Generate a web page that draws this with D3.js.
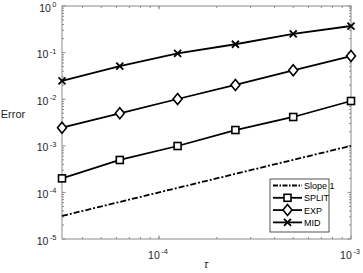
<!DOCTYPE html>
<html><head><meta charset="utf-8">
<script src="https://cdn.jsdelivr.net/npm/d3@7"></script>
<style>body{margin:0;background:#fff}svg{display:block}text{font-family:Helvetica,Arial,"Liberation Sans",sans-serif}</style>
</head><body>
<svg id="c" width="363" height="273"></svg>
<script>
const tau = [3.125e-5, 6.25e-5, 1.25e-4, 2.5e-4, 5e-4, 1e-3];
const slope1 = [3.125e-5, 1e-3];
const split = [2.0e-4, 4.96e-4, 9.9e-4, 2.18e-3, 4.15e-3, 9.15e-3];
const exp = [2.45e-3, 4.98e-3, 1.01e-2, 2.02e-2, 4.17e-2, 8.45e-2];
const mid = [2.46e-2, 5.15e-2, 9.66e-2, 1.51e-1, 2.51e-1, 3.72e-1];
const xTicks = [1e-4, 1e-3];
const yTicks = [1e-5, 1e-4, 1e-3, 1e-2, 1e-1, 1];
const legendLabels = ["Slope 1", "SPLIT", "EXP", "MID"];

const svg = d3.select("#c");
const L = 62, R = 351, T = 6, B = 239;
const x = d3.scaleLog().domain([3.125e-5, 1e-3]).range([L, R]);
const y = d3.scaleLog().domain([1e-5, 1]).range([B, T]);
const axCol = "#8a8a8a";

const xMinor = [];
for (let e = -5; e <= -4; e++) for (let m = 1; m <= 9; m++) { const v = m * Math.pow(10, e); if (v >= 3.125e-5 && v <= 1e-3) xMinor.push(v); }
const yMinor = [];
for (let e = -5; e <= -1; e++) for (let m = 2; m <= 9; m++) yMinor.push(m * Math.pow(10, e));

const g = svg.append("g");
g.append("rect").attr("x", L).attr("y", T).attr("width", R - L).attr("height", B - T)
  .attr("fill", "none").attr("stroke", axCol).attr("stroke-width", 1);

function tickX(v, len) {
  g.append("line").attr("x1", x(v)).attr("x2", x(v)).attr("y1", B).attr("y2", B - len).attr("stroke", axCol);
  g.append("line").attr("x1", x(v)).attr("x2", x(v)).attr("y1", T).attr("y2", T + len).attr("stroke", axCol);
}
function tickY(v, len) {
  g.append("line").attr("y1", y(v)).attr("y2", y(v)).attr("x1", L).attr("x2", L + len).attr("stroke", axCol);
  g.append("line").attr("y1", y(v)).attr("y2", y(v)).attr("x1", R).attr("x2", R - len).attr("stroke", axCol);
}
xMinor.forEach(v => tickX(v, 2));
xTicks.forEach(v => tickX(v, 3.5));
yMinor.forEach(v => tickY(v, 2));
yTicks.forEach(v => tickY(v, 3.5));

function powLabel(sel, v, px, py, anchor) {
  const e = Math.round(Math.log10(v));
  const t = sel.append("text").attr("x", px).attr("y", py).attr("text-anchor", anchor)
    .attr("font-size", 10.5).attr("fill", "#262626");
  t.append("tspan").text("10");
  t.append("tspan").attr("dy", -4.5).attr("dx", 1.5).attr("font-size", 7.5).text(e === 0 ? "0" : "-" + Math.abs(e));
}
yTicks.forEach(v => powLabel(svg, v, 56.5, y(v) + 5.5, "end"));
xTicks.forEach(v => powLabel(svg, v, x(v) - 1, 258.5, "middle"));

svg.append("text").attr("x", 13).attr("y", 118).attr("text-anchor", "middle")
  .attr("font-size", 11).attr("fill", "#262626").text("Error");
svg.append("text").attr("x", 206).attr("y", 268).attr("text-anchor", "middle")
  .attr("font-size", 11).attr("font-style", "italic").attr("font-family", "DejaVu Serif, serif").attr("fill", "#262626").text("τ");

const line = d3.line().x(d => x(d[0])).y(d => y(d[1]));
const lw = 1.8;
svg.append("path").datum(tau.filter((t, i) => i === 0 || i === tau.length - 1).map((t, i) => [t, slope1[i]]))
  .attr("d", line).attr("fill", "none").attr("stroke", "#000").attr("stroke-width", lw).attr("stroke-dasharray", "6,2,2,2");

function marker(sel, type, cx, cy) {
  if (type === "square") sel.append("rect").attr("x", cx - 3.5).attr("y", cy - 3.5).attr("width", 7).attr("height", 7)
    .attr("fill", "#fff").attr("stroke", "#000").attr("stroke-width", 1.6);
  else if (type === "diamond") sel.append("path").attr("d", `M${cx},${cy - 5.5}L${cx + 4.5},${cy}L${cx},${cy + 5.5}L${cx - 4.5},${cy}Z`)
    .attr("fill", "#fff").attr("stroke", "#000").attr("stroke-width", 1.6);
  else sel.append("path").attr("d", `M${cx - 3.5},${cy - 3.5}L${cx + 3.5},${cy + 3.5}M${cx - 3.5},${cy + 3.5}L${cx + 3.5},${cy - 3.5}`)
    .attr("stroke", "#000").attr("stroke-width", 1.8);
}
const series = [[split, "square"], [exp, "diamond"], [mid, "cross"]];
series.forEach(([vals, type]) => {
  const pts = tau.map((t, i) => [t, vals[i]]);
  svg.append("path").datum(pts).attr("d", line).attr("fill", "none").attr("stroke", "#000").attr("stroke-width", lw);
  pts.forEach(p => marker(svg, type, x(p[0]), y(p[1])));
});

const lg = svg.append("g");
lg.append("rect").attr("x", 270).attr("y", 179).attr("width", 59).attr("height", 53)
  .attr("fill", "#fff").attr("stroke", "#262626").attr("stroke-width", 0.8);
const types = [null, "square", "diamond", "cross"];
legendLabels.forEach((lab, i) => {
  const yy = 185.5 + i * 12.3;
  const ln = lg.append("line").attr("x1", 273).attr("x2", 302).attr("y1", yy).attr("y2", yy)
    .attr("stroke", "#000").attr("stroke-width", lw);
  if (i === 0) ln.attr("stroke-dasharray", "5,1.5,1.5,1.5");
  else marker(lg, types[i], 287.5, yy);
  lg.append("text").attr("x", 304).attr("y", yy + 3.5).attr("font-size", 9).attr("fill", "#000").text(lab);
});
</script>
</body></html>
